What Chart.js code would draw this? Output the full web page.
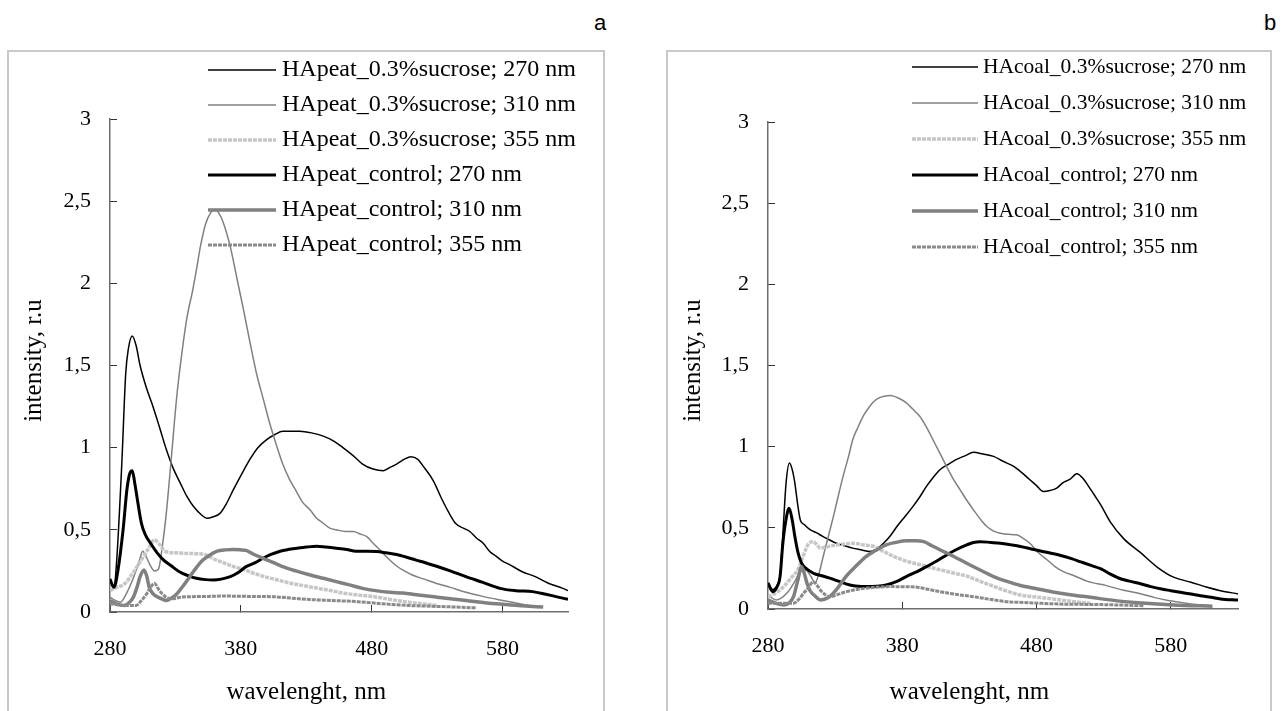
<!DOCTYPE html>
<html>
<head>
<meta charset="utf-8">
<script src="https://cdn.jsdelivr.net/npm/chart.js@4.4.1/dist/chart.umd.min.js"></script>
<style>
  body { margin: 0; background: #fff; width: 1288px; height: 711px; overflow: hidden; position: relative; }
  .box { position: absolute; top: 50px; height: 700px; border: 2px solid #c8c8c8; box-sizing: border-box; }
  .tag { position: absolute; top: 10px; font: 22px "Liberation Sans", Arial, sans-serif; color: #000; }
  canvas { position: absolute; top: 0; }
</style>
</head>
<body>
<div class="box" style="left:7px;width:598px"></div>
<div class="box" style="left:666px;width:606px"></div>
<div class="tag" style="left:594px">a</div>
<div class="tag" style="left:1264px">b</div>
<canvas id="chartA" width="640" height="711" style="left:0"></canvas>
<canvas id="chartB" width="648" height="711" style="left:640px"></canvas>
<script>
// axis settings
const xTickValues = [280, 380, 480, 580];
const yTickValues = [0, 0.5, 1, 1.5, 2, 2.5, 3];
const yTickLabels = ['0', '0,5', '1', '1,5', '2', '2,5', '3'];
const xTitle = 'wavelenght, nm';
const yTitle = 'intensity, r.u';

// panel a labels
const peatLabels = [
    'HApeat_0.3%sucrose; 270 nm', 'HApeat_0.3%sucrose; 310 nm', 'HApeat_0.3%sucrose; 355 nm',
    'HApeat_control; 270 nm', 'HApeat_control; 310 nm', 'HApeat_control; 355 nm'
];
// panel b labels
const coalLabels = [
    'HAcoal_0.3%sucrose; 270 nm', 'HAcoal_0.3%sucrose; 310 nm', 'HAcoal_0.3%sucrose; 355 nm',
    'HAcoal_control; 270 nm', 'HAcoal_control; 310 nm', 'HAcoal_control; 355 nm'
];

// panel a series [wavelength, intensity]
const peatSuc270 = [[280,0.2],[283,0.15],[285,0.3],[289,0.9],[292,1.45],[294,1.6],[297,1.68],[300,1.62],[303,1.5],[308,1.36],[312,1.27],[318,1.12],[323,0.99],[328,0.88],[334,0.78],[339,0.7],[344,0.64],[350,0.59],[354,0.57],[359,0.58],[364,0.6],[369,0.66],[374,0.74],[380,0.83],[387,0.93],[393,1.0],[400,1.05],[406,1.08],[412,1.1],[419,1.1],[425,1.1],[434,1.09],[443,1.07],[451,1.04],[458,1.0],[466,0.95],[473,0.9],[481,0.87],[489,0.86],[494,0.88],[499,0.9],[505,0.93],[510,0.945],[515,0.93],[520,0.88],[527,0.8],[534,0.68],[540,0.59],[544,0.54],[550,0.51],[555,0.49],[560,0.45],[565,0.42],[570,0.37],[575,0.34],[580,0.31],[585,0.29],[595,0.245],[605,0.215],[615,0.175],[626,0.144],[630,0.13]];
const peatSuc310 = [[280,0.09],[284,0.07],[288,0.06],[293,0.12],[298,0.21],[302,0.3],[305,0.37],[308,0.33],[311,0.28],[314,0.25],[317,0.26],[320,0.4],[323,0.6],[327,0.95],[331,1.31],[335,1.58],[339,1.8],[343,1.95],[346,2.08],[349,2.22],[353,2.36],[357,2.43],[360,2.45],[363,2.43],[367,2.36],[372,2.22],[377,2.03],[382,1.84],[387,1.64],[392,1.45],[397,1.3],[402,1.15],[407,1.02],[412,0.9],[417,0.81],[422,0.74],[427,0.67],[433,0.62],[438,0.57],[443,0.54],[448,0.51],[453,0.5],[460,0.49],[466,0.49],[471,0.475],[476,0.46],[481,0.42],[486,0.38],[492,0.33],[499,0.28],[505,0.25],[511,0.225],[520,0.2],[529,0.175],[540,0.15],[552,0.12],[565,0.095],[577,0.075],[590,0.055],[600,0.04],[611,0.03]];
const peatSuc355 = [[280,0.13],[285,0.15],[291,0.17],[296,0.22],[301,0.28],[305,0.33],[309,0.38],[314,0.44],[318,0.41],[322,0.37],[330,0.36],[337,0.357],[345,0.355],[352,0.35],[360,0.32],[368,0.296],[375,0.275],[383,0.256],[390,0.235],[398,0.215],[408,0.195],[418,0.175],[428,0.16],[439,0.144],[449,0.13],[459,0.114],[470,0.103],[482,0.093],[493,0.078],[505,0.063],[518,0.05],[530,0.04]];
const peatCtl270 = [[280,0.2],[283,0.15],[286,0.25],[290,0.5],[293,0.75],[295,0.84],[297,0.86],[299,0.78],[301,0.68],[304,0.54],[307,0.47],[311,0.418],[316,0.36],[321,0.316],[327,0.28],[333,0.245],[340,0.22],[346,0.205],[353,0.197],[359,0.195],[365,0.2],[372,0.215],[378,0.24],[384,0.276],[391,0.3],[397,0.327],[403,0.35],[410,0.37],[416,0.38],[423,0.388],[430,0.395],[438,0.4],[445,0.395],[453,0.388],[461,0.38],[468,0.37],[476,0.37],[484,0.368],[491,0.36],[499,0.35],[506,0.335],[514,0.316],[521,0.3],[529,0.28],[540,0.25],[552,0.215],[565,0.18],[578,0.144],[590,0.13],[603,0.124],[612,0.11],[620,0.095],[630,0.077]];
const peatCtl310 = [[280,0.07],[285,0.05],[291,0.04],[295,0.06],[298,0.093],[301,0.16],[303,0.215],[306,0.256],[308,0.22],[310,0.15],[313,0.11],[316,0.093],[320,0.078],[323,0.07],[327,0.085],[331,0.11],[336,0.16],[341,0.215],[346,0.27],[351,0.316],[356,0.345],[362,0.37],[368,0.378],[374,0.38],[380,0.378],[384,0.375],[390,0.35],[397,0.327],[405,0.3],[412,0.276],[422,0.25],[433,0.225],[443,0.205],[453,0.185],[463,0.165],[473,0.144],[483,0.13],[494,0.12],[504,0.115],[514,0.105],[530,0.09],[552,0.07],[575,0.05],[595,0.038],[611,0.03]];
const peatCtl355 = [[280,0.05],[290,0.04],[300,0.04],[304,0.07],[308,0.11],[311,0.15],[314,0.175],[317,0.14],[320,0.11],[323,0.09],[327,0.08],[334,0.09],[341,0.093],[355,0.095],[367,0.097],[385,0.095],[405,0.093],[418,0.085],[430,0.077],[450,0.07],[469,0.063],[488,0.05],[507,0.04],[525,0.035],[545,0.03],[560,0.025]];

// panel b series [wavelength, intensity]
const coalSuc270 = [[280,0.16],[283.5,0.12],[287,0.15],[289,0.2],[291,0.45],[293.5,0.78],[296,0.9],[298,0.86],[300,0.776],[302,0.65],[304,0.55],[307,0.52],[311,0.49],[316,0.47],[321,0.446],[326,0.425],[331,0.405],[337,0.39],[343,0.375],[349,0.365],[356,0.354],[361,0.37],[366,0.405],[371,0.45],[376,0.508],[382,0.57],[388,0.632],[393,0.69],[398,0.755],[403,0.81],[408,0.858],[414,0.89],[420,0.92],[427,0.945],[433,0.965],[440,0.955],[448,0.94],[455,0.91],[463,0.878],[469,0.84],[475,0.796],[480,0.76],[485,0.724],[490,0.73],[495,0.745],[500,0.78],[505,0.8],[510,0.833],[515,0.8],[520,0.74],[524,0.69],[528,0.638],[535,0.535],[545,0.432],[557,0.35],[570,0.257],[582,0.196],[595,0.165],[607,0.134],[617,0.113],[630,0.093]];
const coalSuc310 = [[280,0.086],[286,0.056],[294,0.097],[300,0.17],[304,0.23],[308,0.24],[312,0.2],[315,0.16],[318,0.22],[321,0.32],[325,0.45],[329,0.58],[333,0.72],[336,0.82],[340,0.94],[343,1.04],[347,1.12],[351,1.19],[355,1.24],[359,1.28],[364,1.305],[371,1.315],[377,1.3],[383,1.27],[388,1.23],[393,1.187],[398,1.12],[403,1.04],[408,0.96],[413,0.878],[418,0.8],[423,0.735],[428,0.67],[433,0.611],[438,0.555],[443,0.508],[448,0.48],[453,0.467],[459,0.46],[465,0.457],[470,0.435],[475,0.405],[481,0.35],[488,0.302],[494,0.26],[500,0.23],[508,0.205],[518,0.17],[532,0.144],[545,0.115],[558,0.093],[568,0.07],[578,0.052],[595,0.031],[610,0.02]];
const coalSuc355 = [[280,0.076],[286,0.1],[292,0.14],[297,0.19],[302,0.24],[305,0.3],[308,0.365],[310,0.4],[313,0.415],[316,0.4],[319,0.375],[325,0.385],[331,0.395],[337,0.4],[344,0.405],[351,0.395],[359,0.385],[366,0.355],[374,0.323],[381,0.3],[389,0.282],[399,0.26],[409,0.24],[419,0.22],[429,0.2],[438,0.17],[448,0.14],[458,0.11],[468,0.086],[478,0.075],[488,0.066],[498,0.055],[508,0.045],[520,0.035]];
const coalCtl270 = [[280,0.16],[283.5,0.107],[287,0.14],[289,0.2],[291,0.4],[293,0.53],[295.7,0.62],[298,0.55],[300,0.446],[302,0.36],[305,0.282],[309,0.245],[314,0.22],[320,0.205],[326,0.19],[333,0.17],[341,0.148],[347,0.14],[353,0.138],[361,0.14],[368,0.148],[376,0.17],[383,0.2],[391,0.23],[398,0.261],[406,0.297],[413,0.333],[420,0.365],[428,0.395],[433,0.41],[438,0.415],[446,0.41],[453,0.405],[461,0.395],[468,0.385],[476,0.37],[483,0.357],[490,0.345],[498,0.33],[506,0.31],[513,0.29],[520,0.27],[528,0.247],[535,0.215],[543,0.185],[550,0.17],[558,0.154],[565,0.138],[573,0.123],[580,0.113],[587,0.103],[595,0.092],[602,0.082],[610,0.072],[617,0.062],[630,0.055]];
const coalCtl310 = [[280,0.056],[286,0.035],[292,0.025],[296,0.04],[299,0.076],[302,0.17],[305,0.26],[307,0.22],[309,0.16],[311,0.117],[315,0.08],[319,0.056],[322,0.06],[326,0.076],[332,0.13],[338,0.2],[345,0.26],[353,0.323],[360,0.36],[368,0.395],[375,0.41],[383,0.42],[390,0.42],[396,0.415],[402,0.39],[408,0.365],[418,0.325],[428,0.282],[438,0.24],[448,0.2],[458,0.17],[468,0.145],[480,0.125],[492,0.105],[505,0.088],[520,0.072],[540,0.05],[558,0.037],[582,0.025],[611,0.017]];
const coalCtl355 = [[280,0.035],[290,0.035],[299,0.035],[303,0.06],[306.5,0.097],[310,0.13],[313.6,0.168],[317,0.14],[320,0.107],[326,0.076],[332,0.09],[338.5,0.107],[346,0.12],[353,0.128],[362,0.135],[371,0.138],[381,0.137],[391,0.134],[400,0.12],[408,0.107],[420,0.09],[433,0.076],[445,0.06],[458,0.045],[470,0.04],[483,0.035],[500,0.03],[520,0.028],[540,0.025],[560,0.02]];

// line looks, same order as the labels
const lineStyles = [
    { color: '#000000', width: 1.5, dash: [] },
    { color: '#808080', width: 1.5, dash: [] },
    { color: '#c6c6c6', width: 3.5, dash: [4, 1] },
    { color: '#000000', width: 3, dash: [] },
    { color: '#808080', width: 3.5, dash: [] },
    { color: '#8a8a8a', width: 3, dash: [4, 1] }
];

function buildDatasets(labels, series) {
    return series.map(function (s, i) {
        const st = lineStyles[i];
        return {
            label: labels[i],
            data: s.map(p => ({ x: p[0], y: p[1] })),
            borderColor: st.color,
            borderWidth: st.width,
            borderDash: st.dash,
            pointRadius: 0,
            fill: false,
            cubicInterpolationMode: 'monotone',
            order: series.length - i
        };
    });
}

// legend and axis titles
const decorPlugin = {
    id: 'decor',
    afterDraw(chart, args, opts) {
        const ctx = chart.ctx;
        const xs = chart.scales.x, ys = chart.scales.y;
        ctx.save();
        ctx.font = opts.legendFont;
        ctx.textBaseline = 'middle';
        ctx.textAlign = 'left';
        chart.data.datasets.forEach(function (ds, i) {
            const ry = opts.legendY + i * opts.legendStep;
            ctx.beginPath();
            ctx.strokeStyle = ds.borderColor;
            ctx.lineWidth = ds.borderWidth;
            ctx.setLineDash(ds.borderDash || []);
            ctx.moveTo(opts.legendX1, ry);
            ctx.lineTo(opts.legendX2, ry);
            ctx.stroke();
            ctx.setLineDash([]);
            ctx.fillStyle = '#000';
            ctx.fillText(ds.label, opts.legendTextX, ry);
        });
        ctx.font = '25px "Liberation Serif", "Times New Roman", serif';
        ctx.textAlign = 'center';
        ctx.fillStyle = '#000';
        ctx.fillText(xTitle, xs.getPixelForValue(430), opts.xTitleY);
        ctx.translate(opts.yTitleX, (ys.top + ys.bottom) / 2 - 5);
        ctx.rotate(-Math.PI / 2);
        ctx.fillText(yTitle, 0, 0);
        ctx.restore();
    }
};

function makeChart(id, datasets, area, decor) {
    const canvas = document.getElementById(id);
    const tickFont = { family: '"Liberation Serif", "Times New Roman", serif', size: 22 };
    return new Chart(canvas.getContext('2d'), {
        type: 'line',
        data: { datasets: datasets },
        options: {
            responsive: false,
            animation: false,
            devicePixelRatio: 1,
            layout: { padding: { left: 0, top: area.top, right: canvas.width - area.right, bottom: 0 } },
            plugins: { legend: { display: false }, tooltip: { enabled: false }, decor: decor },
            scales: {
                x: {
                    type: 'linear',
                    min: 280,
                    max: 630,
                    afterBuildTicks: s => { s.ticks = xTickValues.map(v => ({ value: v })); },
                    afterFit: s => { s.height = canvas.height - area.bottom; },
                    ticks: { font: tickFont, color: '#000', padding: 31, maxRotation: 0, callback: v => String(v) },
                    grid: { drawOnChartArea: false, drawTicks: true, tickLength: -7, color: '#333', lineWidth: 1 },
                    border: { display: true, color: '#6e6e6e', width: 1.5 }
                },
                y: {
                    type: 'linear',
                    min: 0,
                    max: 3,
                    afterBuildTicks: s => { s.ticks = yTickValues.map(v => ({ value: v })); },
                    afterFit: s => { s.width = area.left; },
                    ticks: { font: tickFont, color: '#000', padding: 26, callback: (v, i) => yTickLabels[i] },
                    grid: { drawOnChartArea: false, drawTicks: true, tickLength: -7, color: '#333', lineWidth: 1 },
                    border: { display: true, color: '#6e6e6e', width: 1.5 }
                }
            }
        },
        plugins: [decorPlugin]
    });
}

makeChart('chartA',
    buildDatasets(peatLabels, [peatSuc270, peatSuc310, peatSuc355, peatCtl270, peatCtl310, peatCtl355]),
    { left: 110, right: 568, top: 119, bottom: 612 },
    { legendFont: '24px "Liberation Serif", "Times New Roman", serif', legendX1: 208, legendX2: 276, legendTextX: 282,
      legendY: 70, legendStep: 35, xTitleY: 692, yTitleX: 34 });

makeChart('chartB',
    buildDatasets(coalLabels, [coalSuc270, coalSuc310, coalSuc355, coalCtl270, coalCtl310, coalCtl355]),
    { left: 128, right: 598, top: 122, bottom: 609 },
    { legendFont: '21.5px "Liberation Serif", "Times New Roman", serif', legendX1: 272, legendX2: 338, legendTextX: 343,
      legendY: 67, legendStep: 36, xTitleY: 692, yTitleX: 53 });
</script>
</body>
</html>
